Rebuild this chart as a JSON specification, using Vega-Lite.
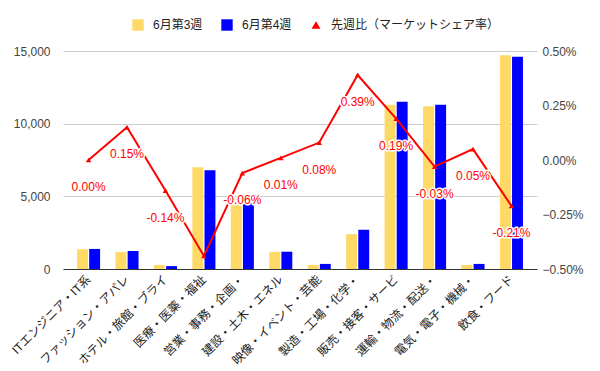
{
  "$schema": "https://vega.github.io/schema/vega-lite/v6.json",
  "width": 474,
  "height": 218,
  "autosize": {"type": "none"},
  "padding": {"left": 63, "top": 51, "right": 63, "bottom": 102},
  "background": "white",
  "config": {"font": "Liberation Sans, Noto Sans CJK JP", "view": {"stroke": null}},
  "datasets": {
    "bars": [
      {"cat": "ITエンジニア・IT系", "week": "6月第3週", "value": 1350},
      {"cat": "ITエンジニア・IT系", "week": "6月第4週", "value": 1380},
      {"cat": "ファッション・アパレ", "week": "6月第3週", "value": 1170},
      {"cat": "ファッション・アパレ", "week": "6月第4週", "value": 1240},
      {"cat": "ホテル・旅館・ブライ", "week": "6月第3週", "value": 280},
      {"cat": "ホテル・旅館・ブライ", "week": "6月第4週", "value": 200},
      {"cat": "医療・医薬・福祉", "week": "6月第3週", "value": 7000},
      {"cat": "医療・医薬・福祉", "week": "6月第4週", "value": 6800},
      {"cat": "営業・事務・企画・", "week": "6月第3週", "value": 4450},
      {"cat": "営業・事務・企画・", "week": "6月第4週", "value": 4550},
      {"cat": "建設・土木・エネル", "week": "6月第3週", "value": 1180},
      {"cat": "建設・土木・エネル", "week": "6月第4週", "value": 1190},
      {"cat": "映像・イベント・芸能", "week": "6月第3週", "value": 280},
      {"cat": "映像・イベント・芸能", "week": "6月第4週", "value": 350},
      {"cat": "製造・工場・化学・", "week": "6月第3週", "value": 2400},
      {"cat": "製造・工場・化学・", "week": "6月第4週", "value": 2700},
      {"cat": "販売・接客・サービ", "week": "6月第3週", "value": 11300},
      {"cat": "販売・接客・サービ", "week": "6月第4週", "value": 11500},
      {"cat": "運輸・物流・配送・", "week": "6月第3週", "value": 11200},
      {"cat": "運輸・物流・配送・", "week": "6月第4週", "value": 11300},
      {"cat": "電気・電子・機械・", "week": "6月第3週", "value": 280},
      {"cat": "電気・電子・機械・", "week": "6月第4週", "value": 350},
      {"cat": "飲食・フード", "week": "6月第3週", "value": 14700},
      {"cat": "飲食・フード", "week": "6月第4週", "value": 14600}
    ],
    "share": [
      {"cat": "ITエンジニア・IT系", "ratio": 0.0, "label": "0.00%"},
      {"cat": "ファッション・アパレ", "ratio": 0.15, "label": "0.15%"},
      {"cat": "ホテル・旅館・ブライ", "ratio": -0.14, "label": "-0.14%"},
      {"cat": "医療・医薬・福祉", "ratio": -0.44, "label": null},
      {"cat": "営業・事務・企画・", "ratio": -0.06, "label": "-0.06%"},
      {"cat": "建設・土木・エネル", "ratio": 0.01, "label": "0.01%"},
      {"cat": "映像・イベント・芸能", "ratio": 0.08, "label": "0.08%"},
      {"cat": "製造・工場・化学・", "ratio": 0.39, "label": "0.39%"},
      {"cat": "販売・接客・サービ", "ratio": 0.19, "label": "0.19%"},
      {"cat": "運輸・物流・配送・", "ratio": -0.03, "label": "-0.03%"},
      {"cat": "電気・電子・機械・", "ratio": 0.05, "label": "0.05%"},
      {"cat": "飲食・フード", "ratio": -0.21, "label": "-0.21%"}
    ]
  },
  "layer": [
    {
      "data": {"name": "bars"},
      "mark": {"type": "bar"},
      "encoding": {
        "x": {
          "field": "cat", "type": "nominal", "sort": null,
          "scale": {"paddingInner": 0.4, "paddingOuter": 0.365},
          "axis": {"title": null, "labelAngle": -45, "labelAlign": "right", "labelBaseline": "middle", "labelFontSize": 12, "labelColor": "#222", "labelPadding": 8, "ticks": false, "domainColor": "#333", "labelLimit": 0}
        },
        "xOffset": {"field": "week", "type": "nominal", "sort": null, "scale": {"paddingInner": 0.1}},
        "y": {
          "field": "value", "type": "quantitative",
          "scale": {"domain": [0, 15000], "nice": false},
          "axis": {"title": null, "values": [0, 5000, 10000, 15000], "format": ",d", "grid": true, "gridColor": "#cccccc", "domain": false, "ticks": false, "labelPadding": 13, "labelFontSize": 12, "labelColor": "#444"}
        },
        "color": {
          "field": "week", "type": "nominal",
          "scale": {"domain": ["6月第3週", "6月第4週", "先週比（マーケットシェア率）"], "range": ["#ffd966", "#0000ff", "#ff0000"]},
          "legend": {
            "title": null, "orient": "none", "legendX": 69, "legendY": -32, "direction": "horizontal",
            "labelFontSize": 12, "labelColor": "#222", "columnPadding": 18, "labelOffset": 9, "symbolStrokeWidth": 0, "labelLimit": 0,
            "encode": {"symbols": {"update": {
              "shape": {"signal": "datum.value === '先週比（マーケットシェア率）' ? 'triangle-up' : 'square'"},
              "size": {"signal": "datum.value === '先週比（マーケットシェア率）' ? 80 : 130"}
            }}}
          }
        }
      }
    },
    {
      "data": {"name": "share"},
      "encoding": {
        "x": {"field": "cat", "type": "nominal", "sort": null},
        "y": {
          "field": "ratio", "type": "quantitative",
          "scale": {"domain": [-0.5, 0.5], "nice": false},
          "axis": {"title": null, "orient": "right", "values": [-0.5, -0.25, 0, 0.25, 0.5], "labelExpr": "format(datum.value, '.2f') + '%'", "grid": false, "domain": false, "ticks": false, "labelPadding": 5, "labelFontSize": 12, "labelColor": "#444"}
        }
      },
      "layer": [
        {"mark": {"type": "line", "color": "#ff0000", "strokeWidth": 2, "point": {"filled": true, "shape": "triangle-up", "size": 30, "color": "#ff0000"}}},
        {"transform": [{"filter": "datum.label != null"}], "mark": {"type": "text", "dy": 27, "fontSize": 12, "fill": "white", "stroke": "white", "strokeWidth": 3, "strokeJoin": "round"}, "encoding": {"text": {"field": "label"}}},
        {"transform": [{"filter": "datum.label != null"}], "mark": {"type": "text", "dy": 27, "fontSize": 12, "color": "#ff0000"}, "encoding": {"text": {"field": "label"}}}
      ]
    }
  ],
  "resolve": {"scale": {"y": "independent"}}
}
